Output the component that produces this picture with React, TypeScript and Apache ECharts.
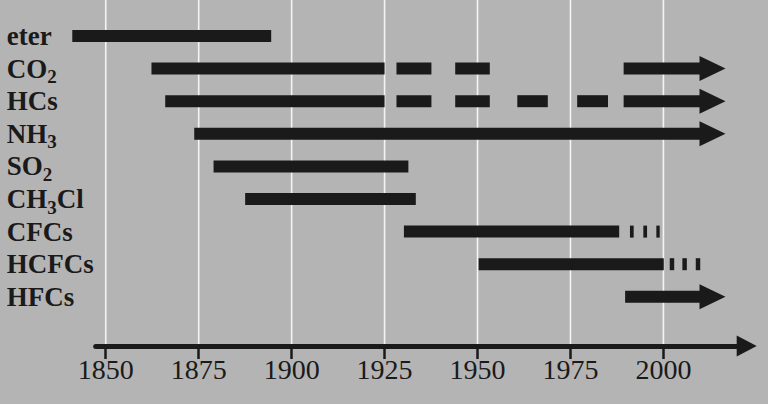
import React, { useEffect, useRef } from "react";
import * as echarts from "echarts";

// ---- data ----
const CATEGORIES = ["eter", "CO2", "HCs", "NH3", "SO2", "CH3Cl", "CFCs", "HCFCs", "HFCs"];
const TICK_YEARS = [1850, 1875, 1900, 1925, 1950, 1975, 2000];

// [start year, end year, row index, arrow (1) or bar (0)]
const ETER = [[1841, 1894.5, 0, 0]];
const CO2 = [
  [1862.3, 1925, 1, 0],
  [1928.2, 1937.6, 1, 0],
  [1944, 1953.3, 1, 0],
  [1989.3, 2016.7, 1, 1],
];
const HCS = [
  [1866, 1925, 2, 0],
  [1928.2, 1937.6, 2, 0],
  [1944, 1953.3, 2, 0],
  [1960.7, 1968.9, 2, 0],
  [1976.8, 1985.1, 2, 0],
  [1989.3, 2016.7, 2, 1],
];
const NH3 = [[1873.8, 2016.7, 3, 1]];
const SO2 = [[1879, 1931.4, 4, 0]];
const CH3CL = [[1887.5, 1933.4, 5, 0]];
const CFCS = [
  [1930.2, 1988.1, 6, 0],
  [1991.0, 1992.0, 6, 0],
  [1994.6, 1995.6, 6, 0],
  [1998.1, 1999.0, 6, 0],
];
const HCFCS = [
  [1950.3, 2000.1, 7, 0],
  [2001.7, 2002.9, 7, 0],
  [2005.1, 2006.3, 7, 0],
  [2008.7, 2009.9, 7, 0],
];
const HFCS = [[1989.7, 2016.7, 8, 1]];

const SEGMENTS = [...ETER, ...CO2, ...HCS, ...NH3, ...SO2, ...CH3CL, ...CFCS, ...HCFCS, ...HFCS];

const X_MIN = 1847.3;
const X_MAX = 2022.4;

const INK = "#1a1a1a";
const BG = "#b4b4b4";

export default function App() {
  const ref = useRef<HTMLDivElement>(null);

  useEffect(() => {
    if (!ref.current) return;
    const chart = echarts.init(ref.current, null, { renderer: "svg" });

    const BAR_H = 12;
    const HEAD_H = 25;
    const HEAD_L = 26;

    const option: any = {
      animation: false,
      backgroundColor: BG,
      grid: [
        { left: 95.7, right: 21.3, top: 0, height: 346, containLabel: false },
        { left: 95.7, right: 21.3, top: 19.7, height: 293.4, containLabel: false },
      ],
      xAxis: [
        {
          gridIndex: 0,
          type: "value",
          min: X_MIN,
          max: X_MAX,
          splitLine: { show: false },
          axisLine: {
            show: true,
            symbol: ["none", "triangle"],
            symbolSize: [21, 20],
            lineStyle: { color: INK, width: 5 },
          },
          axisTick: {
            show: true,
            customValues: TICK_YEARS,
            length: 13,
            inside: false,
            lineStyle: { color: INK, width: 2.5 },
          },
          axisLabel: {
            show: true,
            customValues: TICK_YEARS,
            margin: 9,
            color: INK,
            fontFamily: "Liberation Serif",
            fontSize: 28,
            formatter: (v: number) => String(Math.round(v)),
          },
        },
        {
          gridIndex: 1,
          type: "value",
          min: X_MIN,
          max: X_MAX,
          show: false,
          splitLine: { show: false },
        },
      ],
      yAxis: [
        {
          gridIndex: 0,
          type: "value",
          min: 0,
          max: 1,
          show: false,
          splitLine: { show: false },
        },
        {
          gridIndex: 1,
          type: "category",
          inverse: true,
          data: CATEGORIES,
          axisLine: { show: false },
          axisTick: { show: false },
          splitLine: { show: false },
          axisLabel: {
            interval: 0,
            hideOverlap: false,
            align: "left",
            margin: 89,
            color: INK,
            fontFamily: "Liberation Serif",
            fontWeight: "bold",
            fontSize: 27,
            formatter: (v: string) =>
              v
                .split(/(\d)/)
                .filter((p) => p.length > 0)
                .map((p) => (/^\d$/.test(p) ? `{s|${p}}` : `{m|${p}}`))
                .join(""),
            rich: {
              m: {
                color: INK,
                fontFamily: "Liberation Serif",
                fontWeight: "bold",
                fontSize: 27,
              },
              s: {
                color: INK,
                fontFamily: "Liberation Serif",
                fontWeight: "bold",
                fontSize: 19,
                padding: [16, 0, 0, 0],
              },
            },
          },
        },
      ],
      series: [
        {
          type: "custom",
          xAxisIndex: 0,
          yAxisIndex: 0,
          silent: true,
          z: 1,
          data: TICK_YEARS.map((y) => [y, 0]),
          encode: { x: 0, y: 1 },
          renderItem: (params: any, api: any) => {
            const x = api.coord([api.value(0), 0])[0];
            const cs = params.coordSys;
            return {
              type: "line",
              shape: { x1: x, y1: cs.y, x2: x, y2: cs.y + cs.height - 2 },
              style: { stroke: "#f4f4f4", lineWidth: 1.6 },
            };
          },
        },
        {
          type: "custom",
          xAxisIndex: 1,
          yAxisIndex: 1,
          silent: true,
          clip: false,
          z: 5,
          data: SEGMENTS,
          encode: { x: [0, 1], y: 2 },
          renderItem: (params: any, api: any) => {
            const row = api.value(2);
            const a = api.coord([api.value(0), row]);
            const b = api.coord([api.value(1), row]);
            const arrow = api.value(3) === 1;
            const cy = a[1];
            if (!arrow) {
              return {
                type: "rect",
                shape: { x: a[0], y: cy - BAR_H / 2, width: b[0] - a[0], height: BAR_H },
                style: { fill: INK },
              };
            }
            const tip = b[0];
            const base = tip - HEAD_L;
            return {
              type: "polygon",
              shape: {
                points: [
                  [a[0], cy - BAR_H / 2],
                  [base, cy - BAR_H / 2],
                  [base, cy - HEAD_H / 2],
                  [tip, cy],
                  [base, cy + HEAD_H / 2],
                  [base, cy + BAR_H / 2],
                  [a[0], cy + BAR_H / 2],
                ],
              },
              style: { fill: INK },
            };
          },
        },
      ],
    };

    chart.setOption(option);
    return () => chart.dispose();
  }, []);

  return (
    <div
      ref={ref}
      style={{ position: "fixed", left: 0, top: 0, width: 768, height: 404, background: BG }}
    />
  );
}
